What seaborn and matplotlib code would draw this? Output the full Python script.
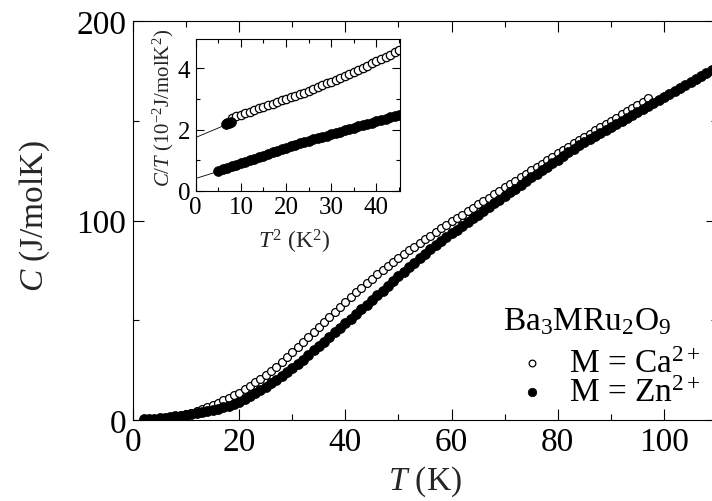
import matplotlib
matplotlib.use("Agg")
import matplotlib.pyplot as plt
import seaborn as sns
import pandas as pd
from matplotlib.ticker import MultipleLocator

# ---------------- data ----------------
T_ca = list(range(2, 98))
C_ca = [0.1, 0.2, 0.4, 0.6, 0.9, 1.3, 1.7, 2.3, 2.9, 3.7, 4.5, 5.5, 6.5, 7.5, 8.6, 9.8,
        11.0, 12.3, 13.7, 15.3, 17.0, 18.8, 20.6, 22.5, 24.6, 26.8, 29.0, 31.5, 34.0,
        36.5, 39.0, 41.5, 44.0, 46.5, 49.0, 51.5, 54.0, 56.5, 59.0, 61.5, 64.0, 66.3,
        68.6, 70.9, 73.0, 75.1, 77.2, 79.2, 81.2, 83.1, 85.0, 86.9, 88.8, 90.6, 92.4,
        94.2, 96.0, 97.8, 99.6, 101.3, 103.0, 104.7, 106.4, 108.1, 109.8, 111.5, 113.2,
        114.9, 116.6, 118.3, 120.0, 121.7, 123.4, 125.1, 126.8, 128.5, 130.2, 131.9,
        133.6, 135.3, 137.0, 138.7, 140.4, 142.0, 143.6, 145.2, 146.8, 148.4, 150.0,
        151.6, 153.2, 154.8, 156.4, 158.0, 159.6, 161.2]

T_zn = list(range(2, 111))
C_zn = [0.3, 0.4, 0.6, 0.8, 1.1, 1.4, 1.8, 2.2, 2.6, 3.1, 3.6, 4.1, 4.6, 5.1, 5.7, 6.3,
        6.9, 7.9, 9.0, 10.5, 12.0, 13.5, 15.0, 16.5, 18.3, 20.1, 22.0, 24.0, 26.0, 28.0,
        30.3, 32.6, 34.9, 37.0, 39.3, 41.6, 44.0, 46.3, 48.6, 50.8, 53.0, 55.4, 57.8,
        60.2, 62.5, 64.9, 67.3, 69.7, 72.0, 74.3, 76.6, 78.9, 81.2, 83.4, 85.5, 87.6,
        89.6, 91.6, 93.5, 95.4, 97.3, 99.2, 101.1, 103.0, 104.9, 106.8, 108.6, 110.5,
        112.4, 114.2, 116.0, 117.9, 119.8, 121.7, 123.5, 125.2, 127.0, 128.8, 130.5,
        132.3, 134.1, 135.9, 137.6, 139.2, 140.8, 142.4, 144.0, 145.5, 147.0, 148.5,
        150.0, 151.5, 153.0, 154.5, 156.0, 157.5, 159.0, 160.5, 162.0, 163.5, 165.0,
        166.5, 168.0, 169.5, 171.0, 172.5, 174.0, 175.5, 177.0]

# inset: C/T (10^-2 J/molK^2) vs T^2 (K^2)
T2_ca_in = list(range(8, 46))
CT_ca_in = [2.38, 2.43, 2.48, 2.53, 2.58, 2.63, 2.69, 2.74, 2.80, 2.85, 2.90, 2.95,
            3.00, 3.05, 3.10, 3.15, 3.21, 3.27, 3.33, 3.39, 3.45, 3.51, 3.57, 3.63,
            3.69, 3.75, 3.81, 3.88, 3.95, 4.02, 4.09, 4.16, 4.23, 4.30, 4.37, 4.44,
            4.52, 4.60]
T2_ca_in_start = [6.6, 7.0, 7.4, 7.8]
CT_ca_in_start = [2.18, 2.20, 2.22, 2.25]

T2_zn_in = list(range(5, 46))
CT_zn_in = [0.65, 0.70, 0.75, 0.80, 0.85, 0.90, 0.95, 1.00, 1.05, 1.10, 1.15, 1.20,
            1.25, 1.30, 1.35, 1.40, 1.45, 1.50, 1.55, 1.60, 1.64, 1.68, 1.72, 1.76,
            1.80, 1.85, 1.89, 1.93, 1.97, 2.02, 2.06, 2.10, 2.14, 2.18, 2.22, 2.27,
            2.31, 2.35, 2.40, 2.44, 2.48]

# linear fits  C/T = gamma + beta*T^2
fit_ca = (1.74, 0.062)
fit_zn = (0.40, 0.046)

legend_title = "Ba$_3$MRu$_2$O$_9$"
series_labels = ["M = Ca$^{2+}$", "M = Zn$^{2+}$"]

# ---------------- style ----------------
sns.set_style("ticks")
plt.rcParams.update({
    "font.family": ["Liberation Serif", "DejaVu Serif"],
    "mathtext.fontset": "custom",
    "mathtext.rm": "Liberation Serif",
    "mathtext.it": "Liberation Serif:italic",
    "mathtext.bf": "Liberation Serif:bold",
    "axes.linewidth": 0.8,
    "axes.edgecolor": "black",
    "text.color": "black",
    "xtick.color": "black",
    "ytick.color": "black",
})

W, H = 712, 502
fig = plt.figure(figsize=(W / 100, H / 100), dpi=100)

# main axes (right spine falls just outside the cropped picture)
x0, y0, y1 = 133, 421, 22
xmax = 110
ppu = 5.31
AW = xmax * ppu
ax = fig.add_axes([x0 / W, (H - y0) / H, AW / W, (y0 - y1) / H])

df_ca = pd.DataFrame({"T": T_ca, "C": C_ca})
df_zn = pd.DataFrame({"T": T_zn, "C": C_zn})

sns.scatterplot(data=df_ca, x="T", y="C", ax=ax, marker="o", s=32,
                color="white", edgecolor="black", linewidth=0.9,
                label=series_labels[0], zorder=2)
sns.scatterplot(data=df_zn, x="T", y="C", ax=ax, marker="o", s=52,
                color="black", edgecolor="black", linewidth=0.5,
                label=series_labels[1], zorder=3)

ax.set_xlim(0, xmax)
ax.set_ylim(0, 200)
ax.xaxis.set_major_locator(MultipleLocator(20))
ax.xaxis.set_minor_locator(MultipleLocator(10))
ax.yaxis.set_major_locator(MultipleLocator(100))
ax.yaxis.set_minor_locator(MultipleLocator(50))
ax.tick_params(which="both", direction="in", top=True, right=True, width=0.8,
               labelsize=24, pad=5)
ax.tick_params(which="major", length=8)
ax.tick_params(which="minor", length=4)

ax.set_xlabel("$T$ (K)", fontsize=24)
ax.set_ylabel("$C$ (J/molK)", fontsize=24)
ax.xaxis.set_label_coords((425 - x0) / AW, (y0 - 465) / (y0 - y1))
ax.yaxis.set_label_coords((52 - x0) / AW, (y0 - 216) / (y0 - y1))

leg = ax.legend(loc="center left",
                bbox_to_anchor=(503 / W, 1 - 379 / H), bbox_transform=fig.transFigure,
                frameon=False, fontsize=24, borderpad=0, borderaxespad=0,
                handlelength=1.75, handletextpad=0.22, labelspacing=-0.05,
                markerscale=0.85)
fig.text(503 / W, 1 - 322 / H, legend_title, fontsize=24, ha="left", va="center")

# inset
ix0, ix1, iy0, iy1 = 195.7, 400, 191.7, 40
axin = fig.add_axes([ix0 / W, (H - iy0) / H, (ix1 - ix0) / W, (iy0 - iy1) / H])
axin.axline((0, fit_ca[0]), slope=fit_ca[1], color="black", lw=0.6, zorder=1)
axin.axline((0, fit_zn[0]), slope=fit_zn[1], color="black", lw=0.6, zorder=1)
sns.scatterplot(x=T2_ca_in, y=CT_ca_in, ax=axin, marker="o", s=36,
                color="white", edgecolor="black", linewidth=0.9, zorder=2)
sns.scatterplot(x=T2_ca_in_start, y=CT_ca_in_start, ax=axin, marker="o", s=50,
                color="black", edgecolor="black", linewidth=0.5, zorder=3)
sns.scatterplot(x=T2_zn_in, y=CT_zn_in, ax=axin, marker="o", s=50,
                color="black", edgecolor="black", linewidth=0.5, zorder=3)
axin.set_xlim(0, 45.2)
axin.set_ylim(0, 4.96)
axin.xaxis.set_major_locator(MultipleLocator(10))
axin.xaxis.set_minor_locator(MultipleLocator(5))
axin.yaxis.set_major_locator(MultipleLocator(2))
axin.yaxis.set_minor_locator(MultipleLocator(1))
axin.tick_params(which="both", direction="in", top=True, right=True, width=0.8,
                 labelsize=18, pad=4)
axin.tick_params(which="major", length=6)
axin.tick_params(which="minor", length=3)
axin.set_xlabel("$T^2$ (K$^2$)", fontsize=17)
axin.set_ylabel("$C/T$ (10$^{-2}$J/molK$^2$)", fontsize=15)
axin.xaxis.set_label_coords((294 - ix0) / (ix1 - ix0), (iy0 - 228) / (iy0 - iy1))
axin.yaxis.set_label_coords((176 - ix0) / (ix1 - ix0), (iy0 - 108) / (iy0 - iy1))

fig.savefig("out.png", dpi=100)
